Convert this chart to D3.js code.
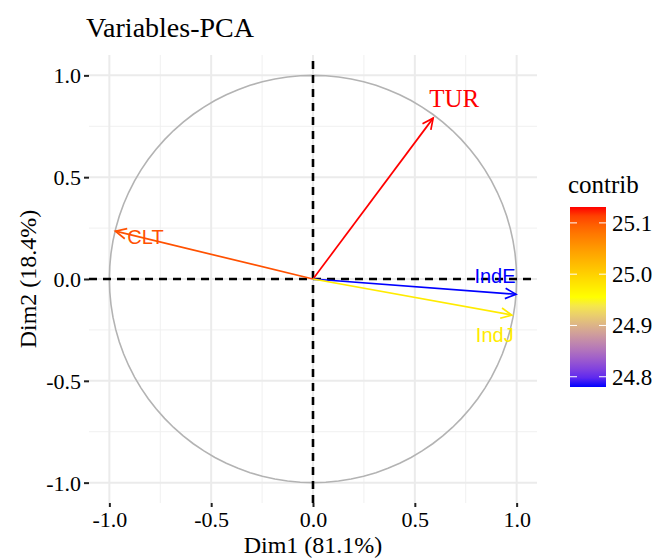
<!DOCTYPE html>
<html>
<head>
<meta charset="utf-8">
<script src="https://cdn.jsdelivr.net/npm/d3@7"></script>
<style>
  body { margin: 0; background: #fff; }
  text { font-family: "Liberation Serif", "DejaVu Serif", serif; }
</style>
</head>
<body>
<svg id="chart" width="655" height="558"></svg>
<script>
// variables and their coordinates on the first two dims
const varNames = ["TUR", "CLT", "IndE", "IndJ"];
const dim1 = [0.59, -0.97, 0.997, 0.976];
const dim2 = [0.79, 0.235, -0.075, -0.177];
const contrib = [25.131, 25.105, 24.78, 24.975];
const axisTicks = [-1.0, -0.5, 0.0, 0.5, 1.0];
const legendTicks = [24.8, 24.9, 25.0, 25.1];

const svg = d3.select("#chart");

const x = d3.scaleLinear().domain([-1.1, 1.1]).range([89, 537]);
const y = d3.scaleLinear().domain([-1.1, 1.1]).range([503, 55]);

const cExtent = d3.extent(contrib);
const color = d3.scaleLinear()
    .domain([cExtent[0], (cExtent[0] + cExtent[1]) / 2, cExtent[1]])
    .range(["blue", "yellow", "red"])
    .interpolate(d3.interpolateLab);

const fmt = v => d3.format(".1f")(v).replace("−", "-");

// gridlines
const minor = [-0.75, -0.25, 0.25, 0.75];
const grid = svg.append("g");
minor.forEach(v => {
    grid.append("line").attr("x1", x(v)).attr("x2", x(v)).attr("y1", y.range()[0]).attr("y2", y.range()[1])
        .attr("stroke", "#f0f0f0").attr("stroke-width", 1);
    grid.append("line").attr("y1", y(v)).attr("y2", y(v)).attr("x1", x.range()[0]).attr("x2", x.range()[1])
        .attr("stroke", "#f0f0f0").attr("stroke-width", 1);
});
axisTicks.forEach(v => {
    grid.append("line").attr("x1", x(v)).attr("x2", x(v)).attr("y1", y.range()[0]).attr("y2", y.range()[1])
        .attr("stroke", "#ebebeb").attr("stroke-width", 2);
    grid.append("line").attr("y1", y(v)).attr("y2", y(v)).attr("x1", x.range()[0]).attr("x2", x.range()[1])
        .attr("stroke", "#ebebeb").attr("stroke-width", 2);
});

// correlation circle
const circlePts = d3.range(0, 101).map(i => {
    const a = i / 100 * 2 * Math.PI;
    return [Math.cos(a), Math.sin(a)];
});
svg.append("path")
    .attr("d", d3.line().x(d => x(d[0])).y(d => y(d[1]))(circlePts))
    .attr("fill", "none").attr("stroke", "#b3b3b3").attr("stroke-width", 1.6);

// axes
const xAxis = svg.append("g").attr("transform", `translate(0,${y.range()[0]})`)
    .call(d3.axisBottom(x).tickValues(axisTicks).tickFormat(fmt).tickSize(4).tickPadding(3));
const yAxis = svg.append("g").attr("transform", `translate(${x.range()[0]},0)`)
    .call(d3.axisLeft(y).tickValues(axisTicks).tickFormat(fmt).tickSize(5).tickPadding(3));
[xAxis, yAxis].forEach(g => {
    g.select(".domain").remove();
    g.selectAll(".tick line").attr("stroke", "#222").attr("stroke-width", 2);
    g.selectAll(".tick text").attr("font-size", 22).attr("fill", "#000")
        .style("font-family", "'Liberation Serif', serif");
});
xAxis.selectAll(".tick text").attr("dy", "0.77em");
yAxis.selectAll(".tick text").attr("dy", "0.34em");

// dashed reference lines
svg.append("line").attr("x1", x.range()[0]).attr("x2", x.range()[1]).attr("y1", y(0)).attr("y2", y(0))
    .attr("stroke", "#000").attr("stroke-width", 2.6).attr("stroke-dasharray", "8,6");
svg.append("line").attr("y1", y.range()[0]).attr("y2", y.range()[1]).attr("x1", x(0)).attr("x2", x(0))
    .attr("stroke", "#000").attr("stroke-width", 2.6).attr("stroke-dasharray", "8,6");

// arrows
const head = 12, ang = Math.PI / 7;
varNames.forEach((name, i) => {
    const x0 = x(0), y0 = y(0), x1 = x(dim1[i]), y1 = y(dim2[i]);
    const col = color(contrib[i]);
    const t = Math.atan2(y1 - y0, x1 - x0);
    const g = svg.append("g").attr("stroke", col).attr("stroke-width", 1.7).attr("fill", "none");
    g.append("line").attr("x1", x0).attr("y1", y0).attr("x2", x1).attr("y2", y1);
    g.append("path").attr("d",
        `M${x1 - head * Math.cos(t - ang)},${y1 - head * Math.sin(t - ang)}L${x1},${y1}L${x1 - head * Math.cos(t + ang)},${y1 - head * Math.sin(t + ang)}`);
});

// labels
const labelDx = [21, 30, -21, -17];
const labelDy = [-11, 13, -11, 27];
varNames.forEach((name, i) => {
    const serif = name === "TUR";
    svg.append("text")
        .attr("x", x(dim1[i]) + labelDx[i])
        .attr("y", y(dim2[i]) + labelDy[i])
        .attr("text-anchor", "middle")
        .attr("font-size", serif ? 25 : 20)
        .attr("fill", color(contrib[i]))
        .style("font-family", serif ? "'Liberation Serif', serif" : "'Liberation Sans', sans-serif")
        .text(name);
});

// titles
svg.append("text").attr("x", 86).attr("y", 37).attr("font-size", 28).text("Variables-PCA");
svg.append("text").attr("x", (x.range()[0] + x.range()[1]) / 2).attr("y", 553)
    .attr("text-anchor", "middle").attr("font-size", 24).text("Dim1 (81.1%)");
svg.append("text").attr("transform", `translate(36,${y(0)}) rotate(-90)`)
    .attr("text-anchor", "middle").attr("font-size", 24).text("Dim2 (18.4%)");

// legend
const lx = 570, lw = 36, ly0 = 207, ly1 = 387;
const ls = d3.scaleLinear().domain(cExtent).range([ly1, ly0]);
const defs = svg.append("defs");
const grad = defs.append("linearGradient").attr("id", "cgrad").attr("x1", 0).attr("y1", 1).attr("x2", 0).attr("y2", 0);
d3.range(0, 21).forEach(i => {
    const v = cExtent[0] + (cExtent[1] - cExtent[0]) * i / 20;
    grad.append("stop").attr("offset", `${i * 5}%`).attr("stop-color", color(v));
});
svg.append("rect").attr("x", lx).attr("y", ly0).attr("width", lw).attr("height", ly1 - ly0).attr("fill", "url(#cgrad)");
legendTicks.forEach(v => {
    svg.append("line").attr("x1", lx).attr("x2", lx + 7).attr("y1", ls(v)).attr("y2", ls(v))
        .attr("stroke", "#fff").attr("stroke-width", 1);
    svg.append("line").attr("x1", lx + lw - 7).attr("x2", lx + lw).attr("y1", ls(v)).attr("y2", ls(v))
        .attr("stroke", "#fff").attr("stroke-width", 1);
    svg.append("text").attr("x", lx + lw + 6).attr("y", ls(v)).attr("dy", "0.34em")
        .attr("font-size", 23).text(v.toFixed(1));
});
svg.append("text").attr("x", 568).attr("y", 193).attr("font-size", 25).text("contrib");
</script>
</body>
</html>
